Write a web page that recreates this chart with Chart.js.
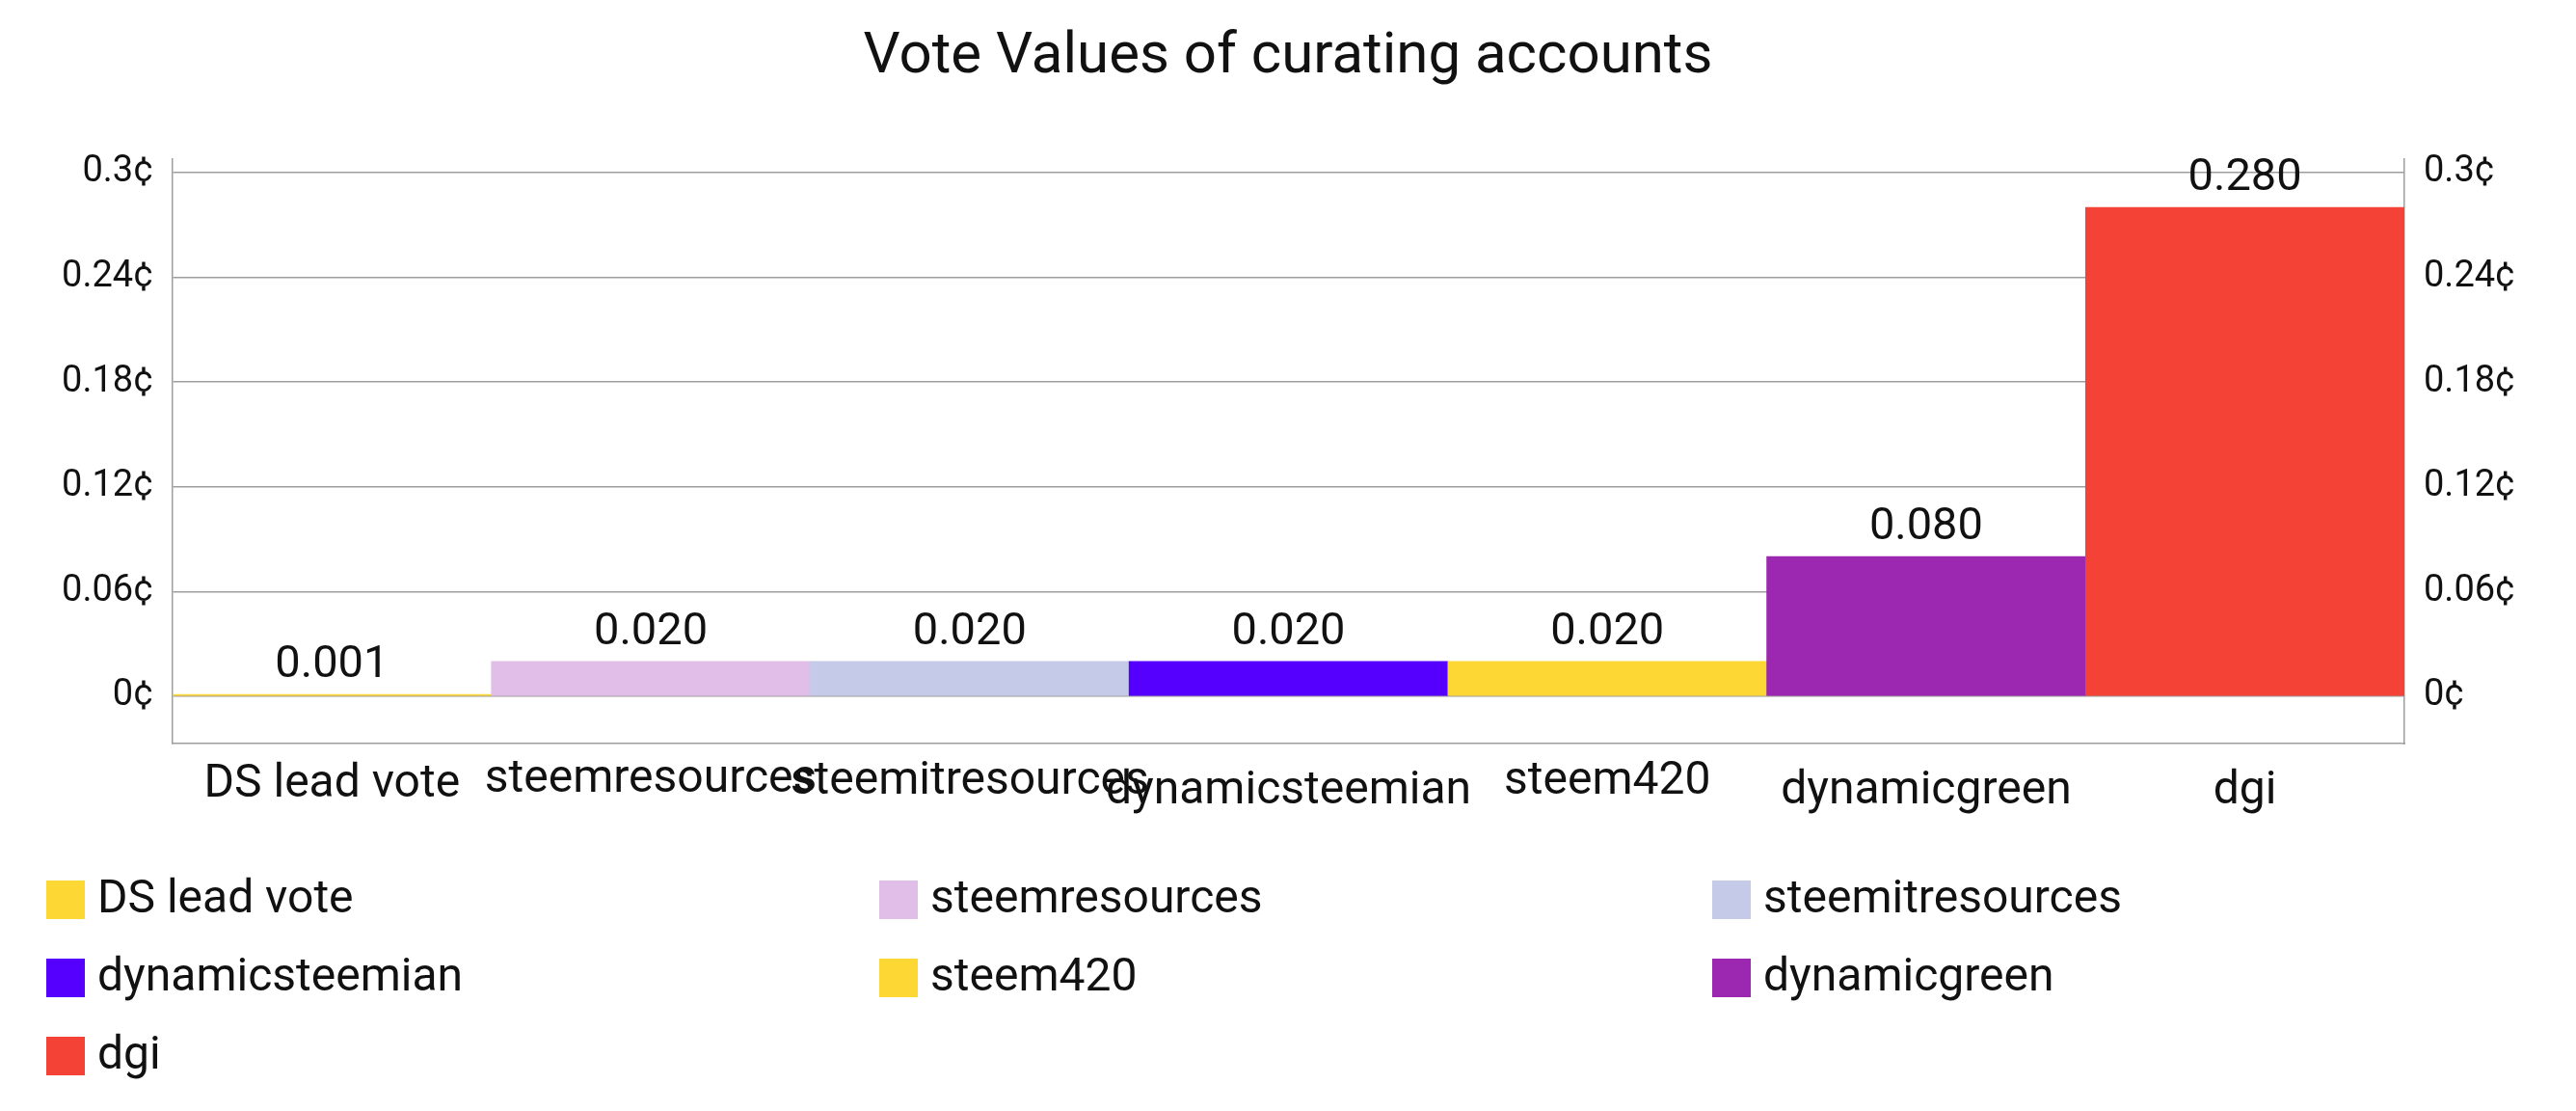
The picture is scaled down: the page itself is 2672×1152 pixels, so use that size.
<!DOCTYPE html>
<html>
<head>
<meta charset="utf-8">
<title>Vote Values of curating accounts</title>
<script src="https://cdn.jsdelivr.net/npm/chart.js@4/dist/chart.umd.min.js"></script>
<style>
  html, body { margin: 0; padding: 0; background: #fff; }
  #chart { display: block; }
</style>
</head>
<body>
<canvas id="chart" width="2672" height="1152"></canvas>
<script>
var accounts = ["DS lead vote", "steemresources", "steemitresources", "dynamicsteemian", "steem420", "dynamicgreen", "dgi"];
var voteValues = [0.001, 0.02, 0.02, 0.02, 0.02, 0.08, 0.28];
var barColors = ["#fdd835", "#e1bee7", "#c5cae9", "#5500ff", "#fdd835", "#9c27b0", "#f44336"];
var yTicks = [0, 0.06, 0.12, 0.18, 0.24, 0.3];
var yTickLabels = ["0¢", "0.06¢", "0.12¢", "0.18¢", "0.24¢", "0.3¢"];

var textColor = "#111";
var lineColor = "#9e9e9e";

function tickLabel(value) {
    var i = yTicks.indexOf(value);
    return i >= 0 ? yTickLabels[i] : "";
}

function setTicks(scale) {
    scale.ticks = yTicks.map(function (v) { return { value: v }; });
}

// value labels above each bar
var barValueLabels = {
    id: "barValueLabels",
    afterDatasetsDraw: function (chart) {
        var ctx = chart.ctx;
        var meta = chart.getDatasetMeta(0);
        ctx.save();
        ctx.font = "47px Roboto";
        ctx.fillStyle = textColor;
        ctx.textAlign = "center";
        ctx.textBaseline = "alphabetic";
        meta.data.forEach(function (bar, i) {
            ctx.fillText(voteValues[i].toFixed(3), bar.x, bar.y - 18);
        });
        ctx.restore();
    }
};

// category names; names with descenders sit a bit lower, as in the original
var categoryLabels = {
    id: "categoryLabels",
    afterDraw: function (chart) {
        var ctx = chart.ctx;
        var xs = chart.scales.x;
        ctx.save();
        ctx.font = "48px Roboto";
        ctx.fillStyle = textColor;
        ctx.textAlign = "center";
        ctx.textBaseline = "alphabetic";
        accounts.forEach(function (name, i) {
            var m = ctx.measureText(name);
            var y = xs.top + 18 + m.actualBoundingBoxAscent + m.actualBoundingBoxDescent * 0.6;
            ctx.fillText(name, xs.getPixelForValue(i), y);
        });
        ctx.restore();
    }
};

// legend in three fixed columns
var gridLegend = {
    id: "gridLegend",
    afterDraw: function (chart) {
        var ctx = chart.ctx;
        ctx.save();
        ctx.font = "48px Roboto";
        ctx.textAlign = "left";
        ctx.textBaseline = "middle";
        accounts.forEach(function (name, i) {
            var col = i % 3, row = Math.floor(i / 3);
            var x = 48 + col * 864;
            var y = 913 + row * 81;
            ctx.fillStyle = barColors[i];
            ctx.fillRect(x, y, 40, 40);
            ctx.fillStyle = textColor;
            ctx.fillText(name, x + 53, y + 21);
        });
        ctx.restore();
    }
};

var yAxisCommon = {
    type: "linear",
    min: -0.0271,
    max: 0.3077,
    afterBuildTicks: setTicks,
    ticks: {
        callback: tickLabel,
        font: { family: "Roboto", size: 38 },
        color: textColor,
        padding: 20
    },
    border: { display: true, color: lineColor, width: 1.5 }
};

new Chart(document.getElementById("chart"), {
    type: "bar",
    data: {
        labels: accounts,
        datasets: [{
            label: "Vote value",
            data: voteValues,
            backgroundColor: barColors,
            borderWidth: 0,
            barPercentage: 1,
            categoryPercentage: 1
        }]
    },
    options: {
        responsive: false,
        animation: false,
        devicePixelRatio: 1,
        layout: { padding: { left: 0, right: 0, top: 0, bottom: 281 } },
        plugins: {
            legend: { display: false },
            tooltip: { enabled: false },
            title: {
                display: true,
                text: "Vote Values of curating accounts",
                color: textColor,
                font: { family: "Roboto", size: 60, weight: "normal" },
                padding: { top: 24, bottom: 69 }
            }
        },
        scales: {
            x: {
                grid: { display: false },
                ticks: { display: false },
                border: { display: true, color: lineColor, width: 1.5 },
                afterFit: function (scale) { scale.height = 100; }
            },
            y: Object.assign({}, yAxisCommon, {
                position: "left",
                grid: { display: true, color: lineColor, lineWidth: 1.5, drawTicks: false },
                afterFit: function (scale) { scale.width = 179; }
            }),
            y2: Object.assign({}, yAxisCommon, {
                position: "right",
                grid: { display: false, drawTicks: false },
                afterFit: function (scale) { scale.width = 178; }
            })
        }
    },
    plugins: [barValueLabels, categoryLabels, gridLegend]
});
</script>
</body>
</html>
